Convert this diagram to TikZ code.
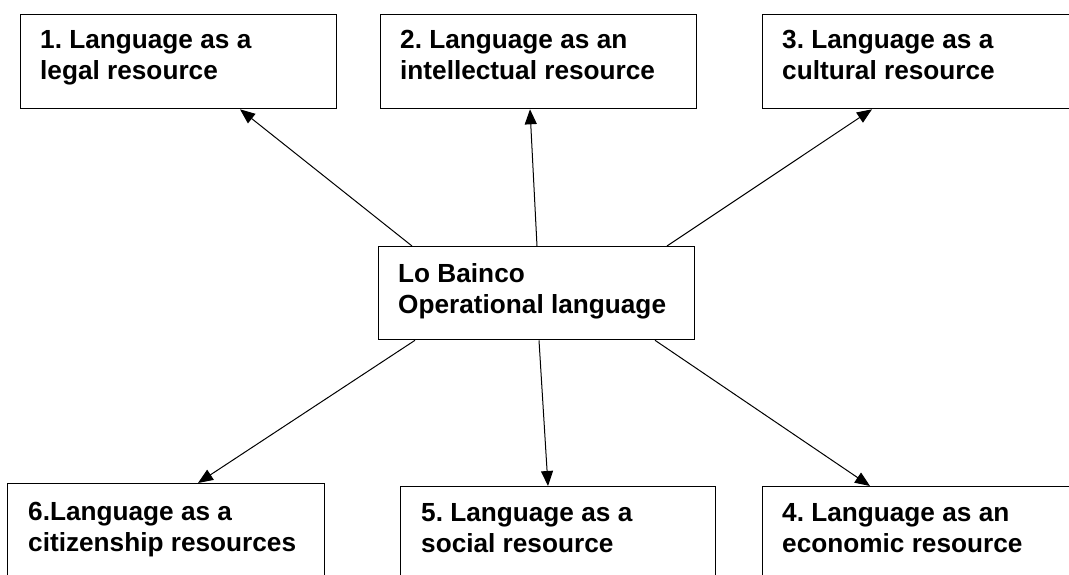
\documentclass[tikz,border=0pt]{standalone}
\usepackage{fontspec}
\setmainfont{Liberation Sans}
\usetikzlibrary{arrows.meta,calc}
\frenchspacing

\tikzset{
  box/.style={draw, line width=1.3pt, fill=white, rectangle, anchor=north west, inner sep=0pt},
  lbl/.style={anchor=north west, inner sep=0pt, align=left,
              font=\fontsize{26.2}{31}\selectfont\bfseries},
  link/.style={line width=1pt, -{Triangle[length=15pt,width=12pt]}},
}

\begin{document}
\begin{tikzpicture}[x=1pt,y=-1pt]
  \useasboundingbox (0,0) rectangle (1069,575);
  \clip (0,0) rectangle (1069,575);

  % outer boxes, top row
  \node[box, minimum width=316pt, minimum height=94pt] (b1) at (20,14) {};
  \node[box, minimum width=316pt, minimum height=94pt] (b2) at (380,14) {};
  \node[box, minimum width=330pt, minimum height=94pt] (b3) at (762,14) {};
  % outer boxes, bottom row (run past the page edge)
  \node[box, minimum width=317pt, minimum height=110pt] (b6) at (7,483) {};
  \node[box, minimum width=315pt, minimum height=110pt] (b5) at (400,486) {};
  \node[box, minimum width=330pt, minimum height=110pt] (b4) at (762,486) {};
  % central box
  \node[box, minimum width=316pt, minimum height=93pt] (c) at (378,246) {};

  % labels
  \node[lbl] (t1) at ($(b1.north west)+(20,16)$) {1. Language as a\\legal resource};
  \node[lbl] (t2) at ($(b2.north west)+(20,16)$) {2. Language as an\\intellectual resource};
  \node[lbl] (t3) at ($(b3.north west)+(20,16)$) {3. Language as a\\cultural resource};
  \node[lbl] (tc) at ($(c.north west)+(20,17)$) {Lo Bainco\\Operational language};
  \node[lbl] (t6) at ($(b6.north west)+(21,19)$) {6.Language as a\\citizenship resources};
  \node[lbl] (t5) at ($(b5.north west)+(21,17)$) {5. Language as a\\social resource};
  \node[lbl] (t4) at ($(b4.north west)+(20,17)$) {4. Language as an\\economic resource};

  % connectors from the central box
  \draw[link] ([xshift=34pt]c.north west) -- ([xshift=220pt]b1.south west);
  \draw[link] ([xshift=159pt]c.north west) -- ([xshift=150pt]b2.south west);
  \draw[link] ([xshift=289pt]c.north west) -- ([xshift=110pt]b3.south west);
  \draw[link] ([xshift=37pt]c.south west) -- ([xshift=191pt]b6.north west);
  \draw[link] ([xshift=161pt]c.south west) -- ([xshift=148pt]b5.north west);
  \draw[link] ([xshift=277pt]c.south west) -- ([xshift=108pt]b4.north west);
\end{tikzpicture}
\end{document}
